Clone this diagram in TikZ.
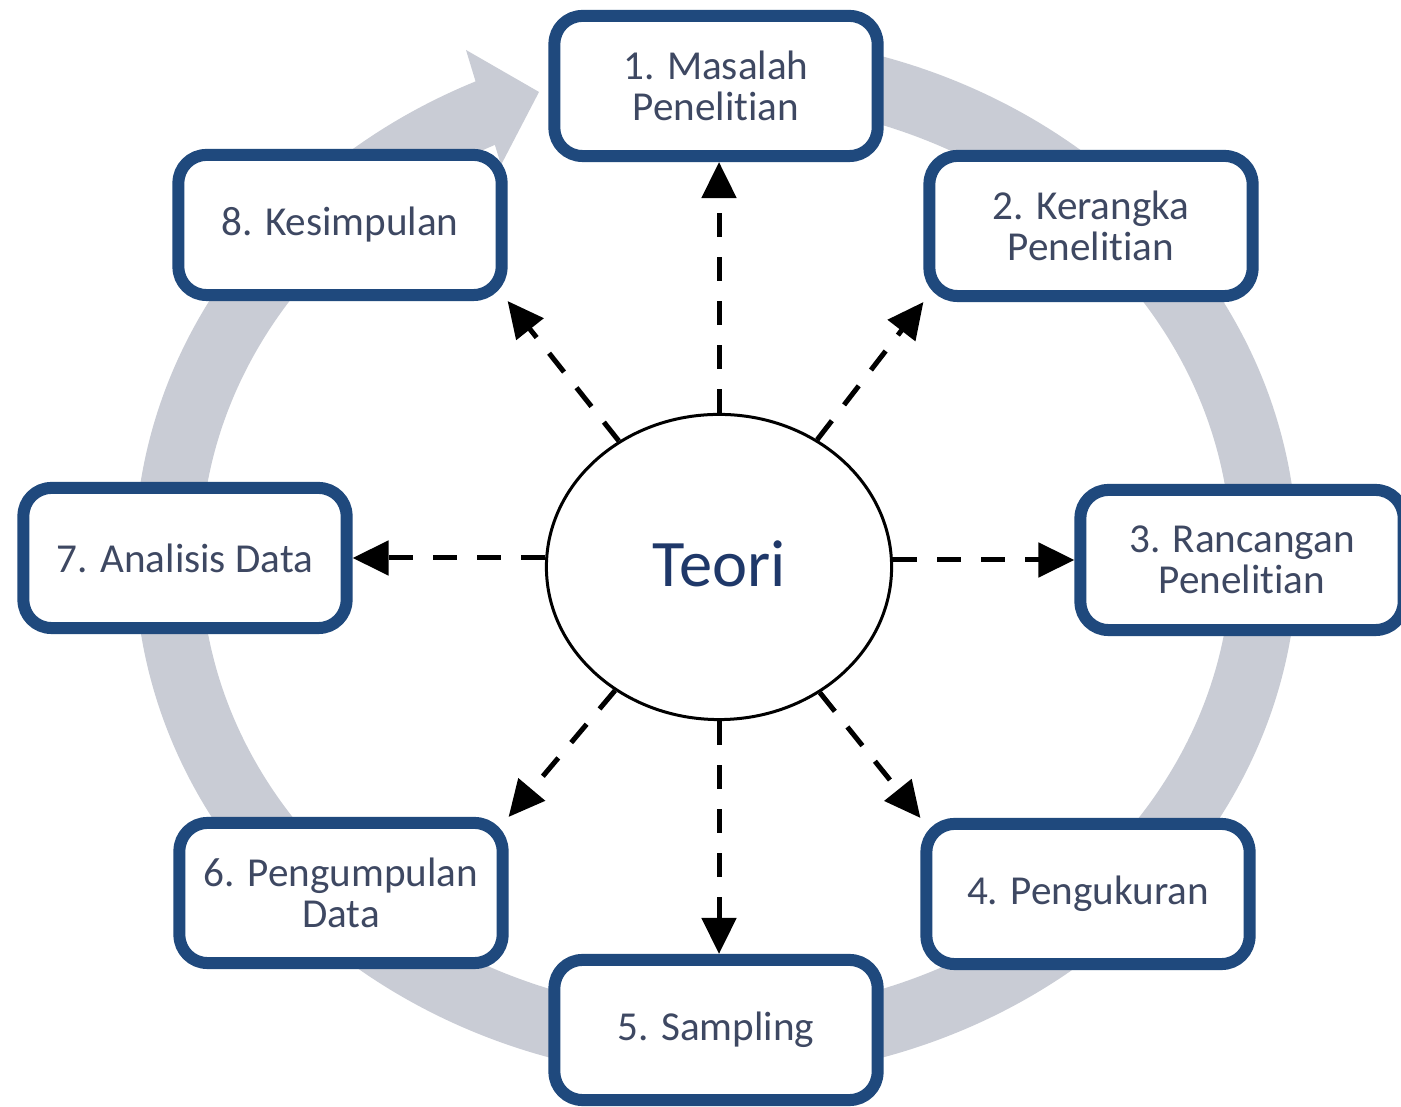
\documentclass[tikz,border=0pt]{standalone}
\usepackage{fontspec}
\setmainfont{Carlito}[Ligatures=NoCommon]
\usetikzlibrary{arrows.meta,shapes.geometric}
\definecolor{boxblue}{RGB}{31,73,125}
\definecolor{ringgray}{RGB}{201,204,213}
\definecolor{txt}{RGB}{62,72,98}
\definecolor{teoricol}{RGB}{31,56,105}
\tikzset{
  stepbox/.style={draw=boxblue, line width=0.12cm, rounded corners=0.28cm, fill=white,
    minimum width=3.23cm, minimum height=1.40cm, align=center, text=txt,
    font=\fontsize{11.7}{11.6}\selectfont, inner sep=0pt},
  conn/.style={draw=black, line width=0.05cm, dash pattern=on 0.24cm off 0.2cm,
    -{Triangle[length=0.36cm,width=0.34cm]}},
}
\begin{document}
\begin{tikzpicture}[x=0.01cm,y=0.01cm]
\useasboundingbox[fill=white] (0,0) rectangle (1401,1107);
% ring with arrowhead
\draw[ringgray, line width=0.66cm] (716,550) ++(95:5.48cm and 4.89cm)
  arc[start angle=95, end angle=-247, x radius=5.48cm, y radius=4.89cm];
\fill[ringgray] (466,1057) -- (539,1015) -- (501,942) -- cycle;
% nodes
\node[stepbox] (b1) at (716,1021) {1. Masalah\\Penelitian};
\node[stepbox] (b2) at (1091,881) {2. Kerangka\\Penelitian};
\node[stepbox] (b3) at (1242,547) {3. Rancangan\\Penelitian};
\node[stepbox] (b4) at (1088,213) {4. Pengukuran};
\node[stepbox] (b5) at (716,77) {5. Sampling};
\node[stepbox] (b6) at (341,214) {6. Pengumpulan\\Data};
\node[stepbox] (b7) at (185,549) {7. Analisis Data};
\node[stepbox] (b8) at (340,882) {8. Kesimpulan};
\node[ellipse, draw=black, line width=0.03cm, fill=white, minimum width=3.45cm,
  minimum height=3.05cm, inner sep=0pt, text=teoricol,
  font=\fontsize{18.9}{20}\selectfont] (teori) at (719,540) {\raisebox{0.07cm}{Teori}};
% connectors
\draw[conn] (teori.north) -- (teori.north |- b1.south);
\draw[conn] (teori) -- (b2.south west);
\draw[conn] (teori.east |- b3.west) -- (b3.west);
\draw[conn] (teori) -- (b4.north west);
\draw[conn] (teori.south) -- (teori.south |- b5.north);
\draw[conn] (teori) -- (b6.north east);
\draw[conn] (teori.west |- b7.east) -- (b7.east);
\draw[conn] (teori) -- (b8.south east);
\end{tikzpicture}
\end{document}
